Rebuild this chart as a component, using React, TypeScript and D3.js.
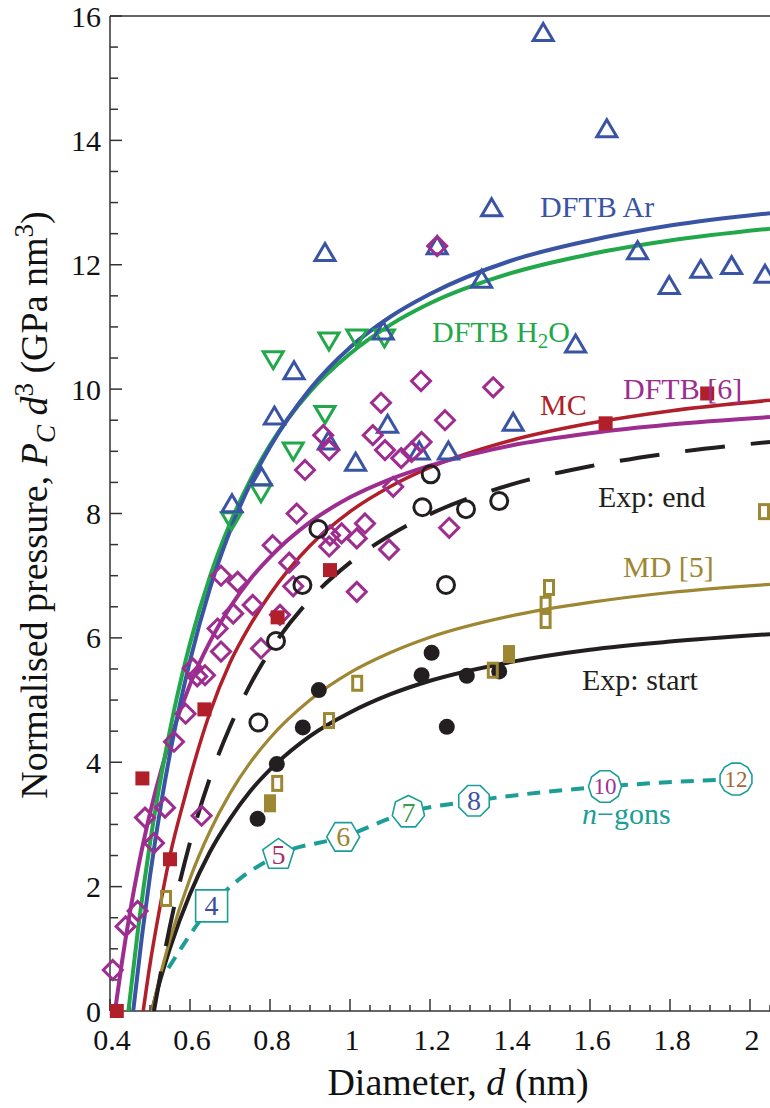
import * as d3 from "d3";

// curves: [diameter nm, Pc*d^3]
const dftbArCurve = [[0.458,0],[0.48,1.21],[0.5,2.17],[0.53,3.42],[0.56,4.47],[0.6,5.63],[0.65,6.8],[0.7,7.72],[0.75,8.47],[0.8,9.07],[0.9,10.0],[1.0,10.67],[1.1,11.16],[1.2,11.53],[1.4,12.06],[1.6,12.39],[1.8,12.63],[2.05,12.83]];
const dftbH2oCurve = [[0.446,0],[0.47,1.31],[0.5,2.7],[0.53,3.85],[0.56,4.83],[0.6,5.91],[0.65,6.99],[0.7,7.84],[0.75,8.53],[0.8,9.1],[0.9,9.96],[1.0,10.57],[1.1,11.03],[1.2,11.38],[1.4,11.86],[1.6,12.17],[1.8,12.39],[2.05,12.58]];
const dftb6Curve = [[0.4125,0],[0.43,0.79],[0.45,1.59],[0.47,2.29],[0.5,3.18],[0.55,4.35],[0.6,5.25],[0.65,5.94],[0.7,6.49],[0.75,6.94],[0.8,7.3],[0.9,7.86],[1.0,8.26],[1.1,8.55],[1.2,8.77],[1.4,9.09],[1.6,9.29],[1.8,9.43],[2.05,9.55]];
const mcCurve = [[0.483,0],[0.5,0.75],[0.52,1.5],[0.55,2.5],[0.5875,3.45],[0.6,3.75],[0.65,4.8],[0.7,5.6],[0.75,6.2],[0.8,6.7],[0.9,7.48],[1.0,8.03],[1.1,8.43],[1.2,8.74],[1.4,9.17],[1.6,9.45],[1.8,9.65],[2.05,9.82]];
const expEndCurve = [[0.51,0],[0.53,0.72],[0.55,1.37],[0.6,2.71],[0.65,3.75],[0.7,4.57],[0.75,5.24],[0.8,5.79],[0.9,6.62],[1.0,7.21],[1.1,7.65],[1.2,7.99],[1.4,8.46],[1.6,8.76],[1.8,8.97],[2.05,9.15]];
const md5Curve = [[0.505,0],[0.52,0.42],[0.55,1.15],[0.6,2.13],[0.65,2.89],[0.7,3.5],[0.75,3.99],[0.8,4.39],[0.9,5.0],[1.0,5.44],[1.1,5.76],[1.2,6.01],[1.4,6.35],[1.6,6.57],[1.8,6.73],[2.05,6.86]];
const expStartCurve = [[0.505,0],[0.52,0.37],[0.55,1.01],[0.6,1.88],[0.65,2.56],[0.7,3.09],[0.75,3.53],[0.8,3.88],[0.9,4.42],[1.0,4.8],[1.1,5.09],[1.2,5.31],[1.4,5.61],[1.6,5.81],[1.8,5.94],[2.05,6.06]];

// n-gon points
const ngonSides = [4, 5, 6, 7, 8, 10, 12];
const ngonD = [0.654, 0.821, 0.983, 1.146, 1.31, 1.6375, 1.965];
const ngonP = [1.69, 2.51, 2.8, 3.2, 3.38, 3.61, 3.73];
const ngonColors = ["#3c4d9e", "#a3306e", "#9a8530", "#3f9a4c", "#3c53a3", "#a0309a", "#a36a36"];
const ngonStart = [0.546, 0.69];

// scattered points
const dftbArPts = [[0.705,8.14],[0.779,8.57],[0.811,9.55],[0.86,10.28],[0.9375,12.18],[0.946,9.15],[1.014,8.81],[1.083,10.92],[1.094,9.42],[1.173,8.99],[1.218,12.29],[1.246,8.99],[1.329,11.75],[1.354,12.9],[1.408,9.45],[1.483,15.72],[1.564,10.71],[1.642,14.17],[1.719,12.21],[1.798,11.65],[1.877,11.91],[1.954,11.97],[2.0375,11.83]];
const dftbH2oPts = [[0.704,7.9],[0.7775,8.35],[0.808,10.49],[0.858,9.02],[0.9375,9.61],[0.9475,10.79],[1.017,10.84],[1.086,10.84]];
const dftb6Pts = [[0.407,0.66],[0.439,1.36],[0.469,1.61],[0.4875,3.11],[0.51,2.7],[0.5375,3.27],[0.56,4.33],[0.589,4.78],[0.607,5.51],[0.618,5.38],[0.629,3.14],[0.6375,5.4],[0.669,6.15],[0.6775,5.78],[0.6775,7.0],[0.708,6.39],[0.719,6.9],[0.7567,6.53],[0.7775,5.83],[0.8067,7.49],[0.825,6.37],[0.848,7.21],[0.858,6.83],[0.8667,8.0],[0.8875,8.7],[0.933,9.26],[0.948,9.02],[0.948,7.47],[0.95,7.65],[0.979,7.68],[1.017,7.6],[1.017,6.74],[1.0375,7.84],[1.057,9.26],[1.0775,9.78],[1.0875,9.02],[1.0975,7.42],[1.108,8.43],[1.128,8.89],[1.154,8.99],[1.1775,10.13],[1.179,9.15],[1.218,12.3],[1.2375,9.5],[1.248,7.77],[1.358,10.03]];
const mcPts = [[0.417,0],[0.481,3.74],[0.55,2.44],[0.636,4.85],[0.819,6.33],[0.95,7.09],[1.639,9.45],[1.893,9.93]];
const expEndPts = [[0.771,4.64],[0.815,5.95],[0.881,6.85],[0.921,7.75],[1.181,8.1],[1.2017,8.63],[1.24,6.85],[1.29,8.07],[1.373,8.2]];
const expStartPts = [[0.769,3.09],[0.817,3.97],[0.882,4.56],[0.922,5.16],[1.179,5.4],[1.204,5.76],[1.242,4.57],[1.292,5.39],[1.373,5.46]];
const md5OpenPts = [[0.54,1.81],[0.818,3.66],[0.9475,4.67],[1.018,5.27],[1.357,5.48],[1.489,6.28],[1.489,6.54],[1.4975,6.81],[2.035,8.03]];
const md5FilledPts = [[0.8,3.34],[1.3975,5.74]];

const xTicks = [0.4, 0.6, 0.8, 1, 1.2, 1.4, 1.6, 1.8, 2];
const yTicks = [0, 2, 4, 6, 8, 10, 12, 14, 16];

const BLUE = "#3a54a4";
const GREEN = "#22a84a";
const MAGENTA = "#9e2d90";
const RED = "#b01f2a";
const BLACK = "#231f20";
const OLIVE = "#9d8732";
const TEAL = "#1c9e96";
const SERIF = "'Liberation Serif', 'Times New Roman', serif";

const W = 770;
const H = 1108;

export default function App() {
  const x = d3.scaleLinear().domain([0.4, 2.05]).range([110, 770]);
  const y = d3.scaleLinear().domain([0, 16]).range([1011, 16]);

  const line = d3
    .line<number[]>()
    .x((p) => x(p[0]))
    .y((p) => y(p[1]))
    .curve(d3.curveMonotoneX);

  const ngonPts = [ngonStart, ...ngonD.map((d, i) => [d, ngonP[i]])];

  function polygon(cx: number, cy: number, n: number, r: number) {
    const off = n % 2 ? -90 : -90 + 180 / n;
    const pts = d3.range(n).map((k) => {
      const a = ((off + (360 * k) / n) * Math.PI) / 180;
      return [cx + r * Math.cos(a), cy + r * Math.sin(a)];
    });
    return "M" + pts.map((p) => p.join(",")).join("L") + "Z";
  }

  const triUp = (cx: number, cy: number) => `M${cx},${cy - 10}L${cx + 10},${cy + 7}L${cx - 10},${cy + 7}Z`;
  const triDown = (cx: number, cy: number) => `M${cx},${cy + 10}L${cx + 10},${cy - 7}L${cx - 10},${cy - 7}Z`;
  const diamond = (cx: number, cy: number) => `M${cx},${cy - 9.5}L${cx + 9.5},${cy}L${cx},${cy + 9.5}L${cx - 9.5},${cy}Z`;

  const yMinor = d3.range(0, 16.01, 0.5);
  const xMinor = d3.range(0.4, 2.051, 0.05);

  return (
    <svg width={W} height={H} style={{ position: "absolute", left: 0, top: 0, background: "#fff" }} fontFamily={SERIF}>
      {/* frame */}
      <g stroke="#333" strokeWidth={1.5} fill="none">
        <line x1={110} x2={110} y1={y(16)} y2={y(0)} />
        <line x1={110} x2={W} y1={y(16)} y2={y(16)} />
        <line x1={110} x2={W} y1={y(0)} y2={y(0)} />
        {yMinor.map((v) => (
          <line key={"ym" + v} x1={110} x2={110 + (Math.abs(v % 2) < 1e-6 ? 12 : 8)} y1={y(v)} y2={y(v)} />
        ))}
        {xMinor.map((v) => {
          const major = Math.abs(Math.round(v * 5) - v * 5) < 1e-6;
          return <line key={"xm" + v} x1={x(v)} x2={x(v)} y1={y(0)} y2={y(0) - (major ? 12 : 6)} />;
        })}
      </g>

      {/* tick labels */}
      <g fontSize={30} fill="#111">
        {yTicks.map((v) => (
          <text key={"yt" + v} x={101} y={y(v)} textAnchor="end" dominantBaseline="central">{v}</text>
        ))}
        {xTicks.map((v) => (
          <text key={"xt" + v} x={x(v) + 2} y={1050} textAnchor="middle">{v}</text>
        ))}
      </g>

      {/* axis titles */}
      <text x={458} y={1095} fontSize={38} textAnchor="middle" fill="#111">
        Diameter, <tspan fontStyle="italic">d</tspan> (nm)
      </text>
      <text transform="translate(47,505) rotate(-90)" fontSize={38} textAnchor="middle" fill="#111">
        Normalised pressure, <tspan fontStyle="italic">P</tspan>
        <tspan fontStyle="italic" fontSize={27} dy={8}>C</tspan>
        <tspan dy={-8}> </tspan>
        <tspan fontStyle="italic">d</tspan>
        <tspan fontSize={27} dy={-14}>3</tspan>
        <tspan dy={14}> (GPa nm</tspan>
        <tspan fontSize={27} dy={-14}>3</tspan>
        <tspan dy={14}>)</tspan>
      </text>

      {/* curves */}
      <g fill="none" strokeLinecap="butt">
        <path d={line(ngonPts) ?? ""} stroke={TEAL} strokeWidth={4} strokeDasharray="13,9" />
        <path d={line(expStartCurve) ?? ""} stroke={BLACK} strokeWidth={4} />
        <path d={line(md5Curve) ?? ""} stroke={OLIVE} strokeWidth={3.2} />
        <path d={line(expEndCurve) ?? ""} stroke={BLACK} strokeWidth={4} strokeDasharray="40,26" />
        <path d={line(mcCurve) ?? ""} stroke={RED} strokeWidth={3.5} />
        <path d={line(dftb6Curve) ?? ""} stroke={MAGENTA} strokeWidth={4} />
        <path d={line(dftbH2oCurve) ?? ""} stroke={GREEN} strokeWidth={4} />
        <path d={line(dftbArCurve) ?? ""} stroke={BLUE} strokeWidth={4} />
      </g>

      {/* points */}
      <g fill="none" strokeWidth={3}>
        {dftbH2oPts.map((p, i) => (
          <path key={"g" + i} d={triDown(x(p[0]), y(p[1]))} stroke={GREEN} />
        ))}
        {dftbArPts.map((p, i) => (
          <path key={"b" + i} d={triUp(x(p[0]), y(p[1]))} stroke={BLUE} />
        ))}
        {dftb6Pts.map((p, i) => (
          <path key={"m" + i} d={diamond(x(p[0]), y(p[1]))} stroke={MAGENTA} />
        ))}
        {mcPts.map((p, i) => (
          <rect key={"r" + i} x={x(p[0]) - 7} y={y(p[1]) - 7} width={14} height={14} fill={RED} stroke="none" />
        ))}
        {expEndPts.map((p, i) => (
          <circle key={"o" + i} cx={x(p[0])} cy={y(p[1])} r={8.5} stroke={BLACK} />
        ))}
        {expStartPts.map((p, i) => (
          <circle key={"f" + i} cx={x(p[0])} cy={y(p[1])} r={8} fill={BLACK} stroke="none" />
        ))}
        {md5OpenPts.map((p, i) => (
          <rect key={"mo" + i} x={x(p[0]) - 4.5} y={y(p[1]) - 7} width={9} height={14} stroke={OLIVE} />
        ))}
        {md5FilledPts.map((p, i) => (
          <rect key={"mf" + i} x={x(p[0]) - 6} y={y(p[1]) - 9} width={12} height={18} fill={OLIVE} stroke="none" />
        ))}
      </g>

      {/* n-gon markers */}
      {ngonSides.map((n, i) => {
        const cx = x(ngonD[i]);
        const cy = y(ngonP[i]);
        return (
          <g key={"ng" + n}>
            <path d={polygon(cx, cy, n, n === 4 ? 22.6 : 16.5)} fill="#fff" stroke={TEAL} strokeWidth={1.6} />
            <text x={cx} y={cy} fontSize={n >= 10 ? 23 : 28} textAnchor="middle" dominantBaseline="central" fill={ngonColors[i]}>
              {n}
            </text>
          </g>
        );
      })}

      {/* series labels */}
      <g fontSize={30}>
        <text x={540} y={217} fill={BLUE}>DFTB Ar</text>
        <text x={432} y={342} fill={GREEN}>
          DFTB H<tspan fontSize={21} dy={6}>2</tspan><tspan dy={-6}>O</tspan>
        </text>
        <text x={540} y={415} fill={RED}>MC</text>
        <text x={623} y={399} fill={MAGENTA}>DFTB [6]</text>
        <text x={598} y={507} fill={BLACK}>Exp: end</text>
        <text x={623} y={577} fill={OLIVE}>MD [5]</text>
        <text x={582} y={690} fill={BLACK}>Exp: start</text>
        <text x={582} y={824} fill={TEAL}>
          <tspan fontStyle="italic">n</tspan>−gons
        </text>
      </g>
    </svg>
  );
}
